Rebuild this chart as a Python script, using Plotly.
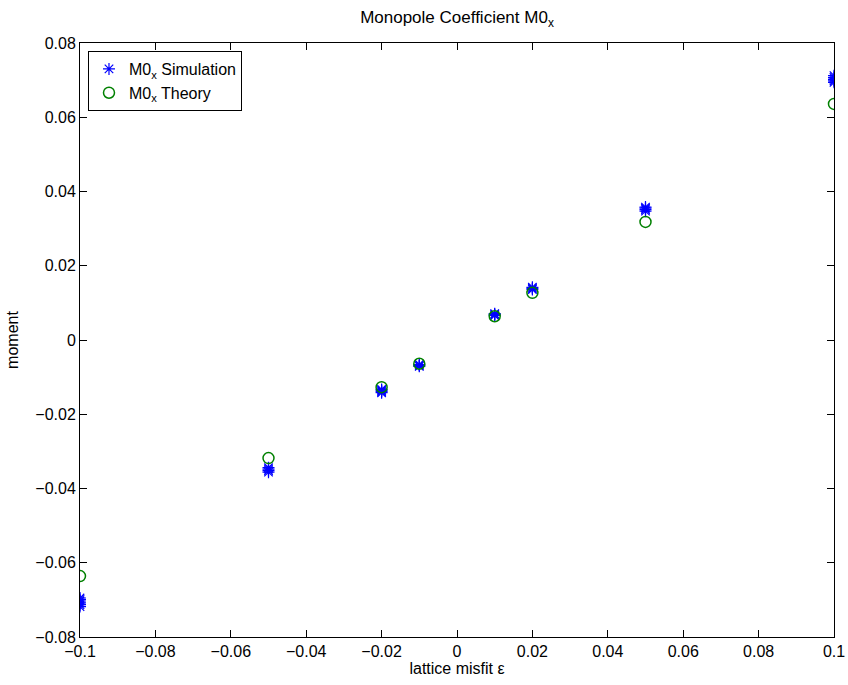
import plotly.graph_objects as go

# lattice misfit values
misfit = [-0.1, -0.05, -0.02, -0.01, 0.01, 0.02, 0.05, 0.1]

# simulation results (several runs per misfit value)
sim_x = [-0.1] * 6 + [-0.05] * 4 + [-0.02] * 4 + [-0.01] * 3 + [0.01] * 3 + [0.02] * 3 + [0.05] * 4 + [0.1] * 5
sim_y = [-0.0695, -0.0699, -0.0703, -0.0708, -0.0713, -0.0718,
         -0.0344, -0.0348, -0.0352, -0.0356,
         -0.0133, -0.0136, -0.0139, -0.0142,
         -0.0066, -0.0069, -0.0071,
         0.0066, 0.0069, 0.0071,
         0.0136, 0.0139, 0.0142,
         0.0347, 0.0351, 0.0355, 0.0358,
         0.0694, 0.0698, 0.0702, 0.0707, 0.0712]

# theory values
theory_y = [-0.0636, -0.0318, -0.0127, -0.0064, 0.0064, 0.0127, 0.0318, 0.0636]

x_ticks = [-0.1, -0.08, -0.06, -0.04, -0.02, 0, 0.02, 0.04, 0.06, 0.08, 0.1]
x_tick_text = ["\u22120.1", "\u22120.08", "\u22120.06", "\u22120.04", "\u22120.02", "0",
               "0.02", "0.04", "0.06", "0.08", "0.1"]
y_ticks = [-0.08, -0.06, -0.04, -0.02, 0, 0.02, 0.04, 0.06, 0.08]
y_tick_text = ["\u22120.08", "\u22120.06", "\u22120.04", "\u22120.02", "0",
               "0.02", "0.04", "0.06", "0.08"]

FONT = "Liberation Sans, Arial, Helvetica, sans-serif"
FS = 16
W, H = 848, 685

fig = go.Figure()
fig.add_trace(go.Scatter(
    x=sim_x, y=sim_y, mode="markers", name="M0<sub>x</sub> Simulation",
    marker=dict(symbol="asterisk-open", size=10, color="#0000ff",
                line=dict(color="#0000ff", width=1.2)),
))
fig.add_trace(go.Scatter(
    x=misfit, y=theory_y, mode="markers", name="M0<sub>x</sub> Theory",
    marker=dict(symbol="circle-open", size=11, color="#008000",
                line=dict(color="#008000", width=1.5)),
))

axis_common = dict(
    showgrid=False, zeroline=False, showline=True, linecolor="black", linewidth=1,
    mirror="ticks", ticks="inside", ticklen=7, tickcolor="black",
    tickfont=dict(family=FONT, size=FS, color="black"),
    automargin=False, ticklabeloverflow="allow",
)

fig.update_layout(
    width=W, height=H,
    margin=dict(l=80, r=14, t=43, b=48),
    paper_bgcolor="white", plot_bgcolor="white",
    font=dict(family=FONT, size=FS, color="black"),
    title=dict(text="Monopole Coefficient M0<sub>x</sub>", x=457 / W, xanchor="center",
               y=1 - 17 / H, yanchor="middle", font=dict(family=FONT, size=17, color="black")),
    xaxis=dict(range=[-0.1, 0.1], tickvals=x_ticks, ticktext=x_tick_text,
               title=dict(text="lattice misfit \u03b5", standoff=1,
                          font=dict(family=FONT, size=FS, color="black")),
               **axis_common),
    yaxis=dict(range=[-0.08, 0.08], tickvals=y_ticks, ticktext=y_tick_text,
               title=dict(text="moment", standoff=12,
                          font=dict(family=FONT, size=FS, color="black")),
               **axis_common),
    legend=dict(x=0.0106, y=0.9865, xanchor="left", yanchor="top",
                bgcolor="white", bordercolor="black", borderwidth=1,
                font=dict(family=FONT, size=FS, color="black"),
                tracegroupgap=0, itemsizing="trace"),
    showlegend=True,
)

fig.write_html("out.html",
               config={"displayModeBar": False},
               post_script="document.body.style.margin='0';document.body.style.overflow='hidden';")
